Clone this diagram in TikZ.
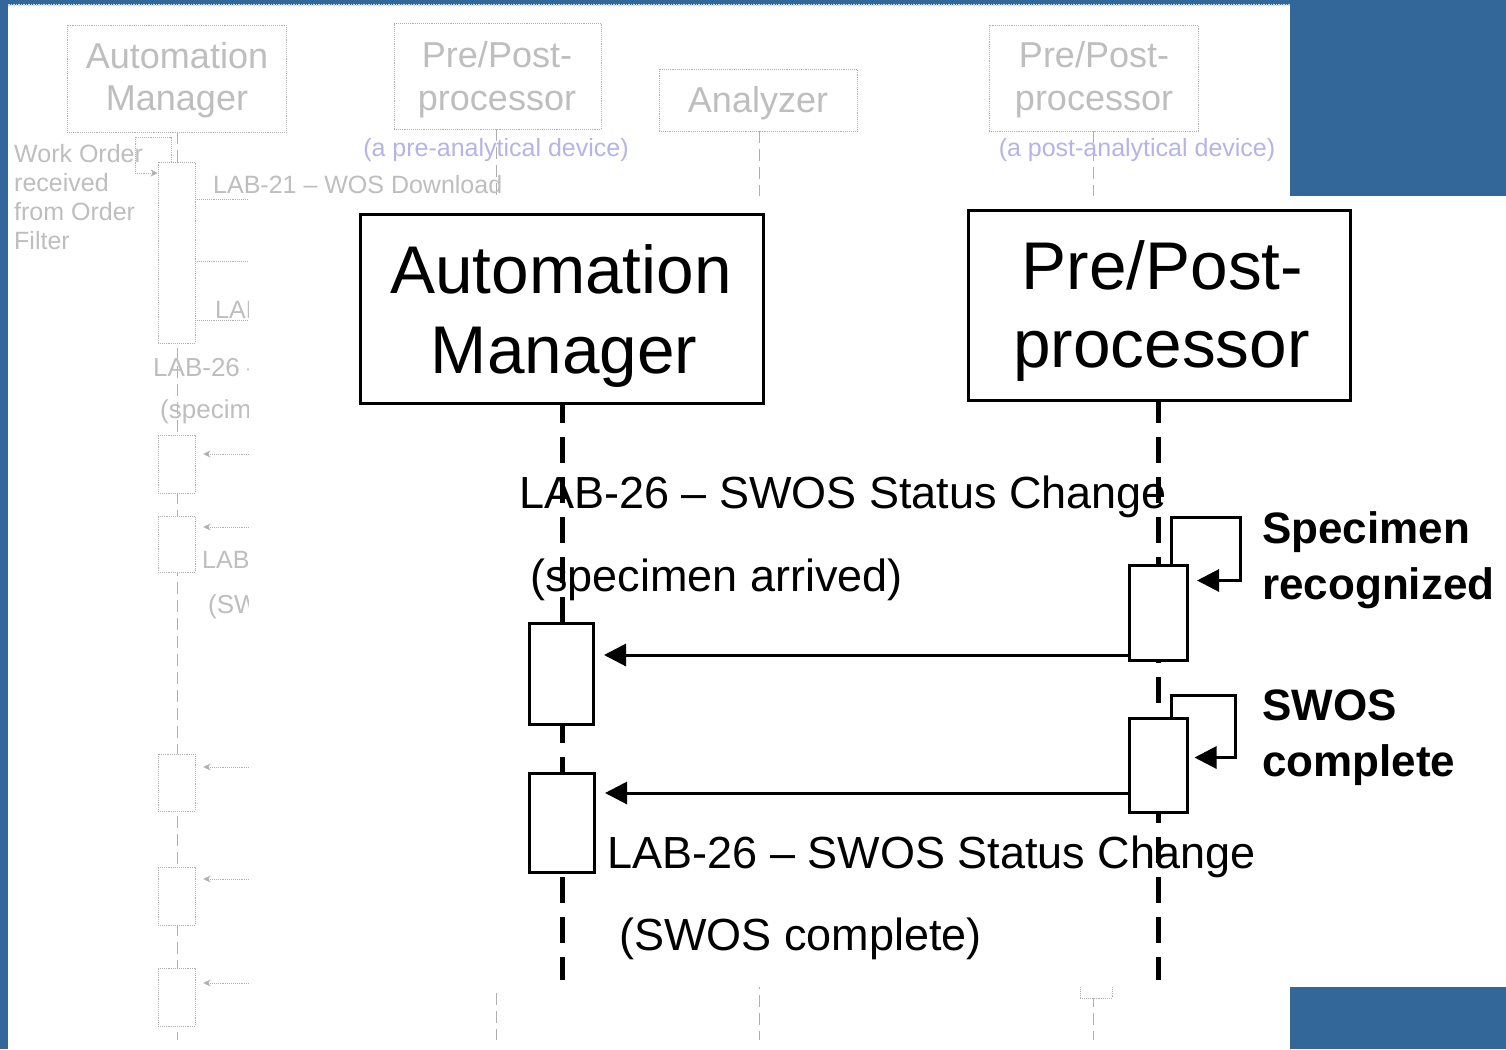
\documentclass[tikz,border=0pt]{standalone}
\usepackage{fontspec}
\setmainfont{Liberation Sans}
\usetikzlibrary{arrows.meta,calc}
\definecolor{bgblue}{RGB}{51,102,153}
\definecolor{fadeln}{RGB}{175,175,175}
\definecolor{fadetx}{RGB}{190,190,190}
\definecolor{fadebl}{RGB}{180,180,232}
\begin{document}
\begin{tikzpicture}[x=1pt,y=-1pt,
  fbox/.style={draw=fadeln, densely dotted, line width=0.9, fill=white, inner sep=0},
  ftext/.style={text=fadetx, inner sep=0, anchor=base, font=\fontsize{36}{42}\selectfont},
  fsmall/.style={text=fadetx, inner sep=0, anchor=base west, font=\fontsize{25}{29}\selectfont},
  fline/.style={draw=fadeln, line width=0.9, densely dotted},
  flife/.style={draw=fadeln, line width=0.9, dash pattern=on 12 off 6},
  farrow/.style={fline, -{Stealth[length=7,width=7]}},
  hdr/.style={draw, line width=3, fill=white, inner sep=0},
  act/.style={draw, line width=3, fill=white, inner sep=0},
  life/.style={line width=5, dash pattern=on 26 off 14},
  msg/.style={line width=3, -{Triangle[length=22,width=22]}},
  hdrtext/.style={inner sep=0, anchor=base, font=\fontsize{67.5}{80}\selectfont},
  lbl/.style={inner sep=0, anchor=base west, font=\fontsize{45}{54}\selectfont},
  blbl/.style={inner sep=0, anchor=base west, font=\fontsize{44}{56}\bfseries\selectfont}
]
\useasboundingbox (0,0) rectangle (1506,1049);
% background
\fill[bgblue] (0,0) rectangle (1506,1049);
\fill[white] (8,5) rectangle (1290,1049);
\draw[draw=white!75!bgblue, line width=1.5, densely dotted] (8,5) -- (1290,5);

% ---------------- faded diagram ----------------
\node[fbox, minimum width=219, minimum height=107] (fam) at (176.5,78.5) {};
\node[ftext] (famt1) at (177,68) {Automation};
\node[ftext] (famt2) at (177,110) {Manager};
\node[fbox, minimum width=207, minimum height=106] (fpre) at (497.5,76) {};
\node[ftext] (fpret1) at (497,67) {Pre/Post-};
\node[ftext] (fpret2) at (497,110) {processor};
\node[fbox, minimum width=198, minimum height=62] (fan) at (758,100) {};
\node[ftext] (fant) at (758,112) {Analyzer};
\node[fbox, minimum width=209, minimum height=106] (fpost) at (1093.5,78) {};
\node[ftext] (fpostt1) at (1094,67) {Pre/Post-};
\node[ftext] (fpostt2) at (1094,110) {processor};

\coordinate (famEnd) at (177,1040);
\coordinate (fpreEnd) at (496,1040);
\coordinate (fanEnd) at (759,1040);
\coordinate (fpostEnd) at (1093,1040);
\draw[flife] (fam.south -| famEnd) -- (famEnd);
\draw[flife] (fpre.south -| fpreEnd) -- (fpreEnd);
\draw[flife] (fan.south -| fanEnd) -- (fanEnd);
\draw[flife] (fpost.south -| fpostEnd) -- (fpostEnd);

\node[text=fadebl, inner sep=0, font=\fontsize{25}{29}\selectfont] (fpred) at (496,150) {(a pre-analytical device)};
\node[text=fadebl, inner sep=0, font=\fontsize{25}{29}\selectfont] (fpostd) at (1137,150) {(a post-analytical device)};

\node[fsmall] (wo1) at (14,162) {Work Order};
\node[fsmall] (wo2) at (14,191) {received};
\node[fsmall] (wo3) at (14,220) {from Order};
\node[fsmall] (wo4) at (14,249) {Filter};

\node[fbox, minimum width=37, minimum height=181] (fa1) at (176.5,252.5) {};
\node[fbox, minimum width=37, minimum height=58] (fa2) at (176.5,464) {};
\node[fbox, minimum width=37, minimum height=56] (fa3) at (176.5,544) {};
\node[fbox, minimum width=37, minimum height=57] (fa4) at (176.5,782.5) {};
\node[fbox, minimum width=37, minimum height=58] (fa5) at (176.5,896) {};
\node[fbox, minimum width=37, minimum height=58] (fa6) at (176.5,997) {};
\draw[fbox] (1080,930) rectangle (1112,998);

\coordinate (wol) at (135,137);
\draw[farrow] (171,162) -- (171,137) -- (wol) -- (135,173) -- (fa1.west |- 0,173);

\node[fsmall] (f21) at (213,193) {LAB-21 -- WOS Download};
\coordinate (fm0) at (420,199);
\coordinate (fmA) at (420,261);
\coordinate (fmB) at (420,320);
\draw[fline] (fa1.east |- fm0) -- (fm0);
\draw[fline] (fa1.east |- fmA) -- (fmA);
\draw[fline] (fa1.east |- fmB) -- (fmB);
\node[fsmall] (flab1) at (215,318) {LAB};
\node[fsmall, font=\fontsize{26}{30}\selectfont] (flab26) at (153,376) {LAB-26 -- SWOS};
\node[fsmall, font=\fontsize{26}{30}\selectfont] (fspec) at (160,418) {(specimen};
\node[fsmall] (flab2) at (202,568) {LAB};
\node[fsmall, font=\fontsize{26}{30}\selectfont] (fsw) at (208,613) {(SWOS};

\coordinate (fm2) at (420,454);
\coordinate (fm3) at (420,527);
\coordinate (fm4) at (420,767);
\coordinate (fm5) at (420,879);
\coordinate (fm6) at (420,983);
\draw[farrow] (fm2) -- ([xshift=8]fa2.east |- fm2);
\draw[farrow] (fm3) -- ([xshift=8]fa3.east |- fm3);
\draw[farrow] (fm4) -- ([xshift=8]fa4.east |- fm4);
\draw[farrow] (fm5) -- ([xshift=8]fa5.east |- fm5);
\draw[farrow] (fm6) -- ([xshift=8]fa6.east |- fm6);

% ---------------- white overlay ----------------
\fill[white] (249,196) rectangle (1506,987);

% ---------------- foreground ----------------
\node[hdr, minimum width=403, minimum height=189] (am) at (562,309) {};
\node[hdrtext] (amt1) at (561,293) {Automation};
\node[hdrtext] (amt2) at (564,373) {Manager};
\node[hdr, minimum width=382, minimum height=190] (pp) at (1159.5,305.5) {};
\node[hdrtext] (ppt1) at (1162.5,289) {Pre/Post-};
\node[hdrtext] (ppt2) at (1161.5,367) {processor};

\node[lbl] (t1) at (519,508) {LAB-26 -- SWOS Status Change};
\node[lbl] (t2) at (530,591) {(specimen arrived)};
\node[lbl] (t3) at (607.5,868) {LAB-26 -- SWOS Status Change};
\node[lbl] (t4) at (619,950) {(SWOS complete)};

\node[blbl] (s1) at (1262,543) {Specimen};
\node[blbl] (s2) at (1262,599) {recognized};
\node[blbl] (s3) at (1262,720) {SWOS};
\node[blbl] (s4) at (1262,776) {complete};

\coordinate (amEnd) at (562,980);
\coordinate (ppEnd) at (1158,980);
\draw[life, dash phase=8] (am.south) -- (amEnd);
\draw[life, dash phase=5] (pp.south -| ppEnd) -- (ppEnd);

\node[act, minimum width=64, minimum height=101] (am1) at (561.5,674) {};
\node[act, minimum width=65, minimum height=99] (am2) at (562,823) {};
\node[act, minimum width=58, minimum height=95] (pp1) at (1158.5,613) {};
\node[act, minimum width=58, minimum height=94] (pp2) at (1158.5,765.5) {};

\coordinate (m1e) at (604,655);
\coordinate (m2e) at (605,793);
\draw[msg] (pp1.west |- m1e) -- (m1e);
\draw[msg] (pp2.west |- m2e) -- (m2e);

\draw[msg] ([xshift=-17.5]pp1.north east) -- ++(0,-46.5) -- ++(68.5,0) -- ++(0,63) -- ++(-43,0);
\draw[msg] ([xshift=-17.5]pp2.north east) -- ++(0,-21.5) -- ++(64,0) -- ++(0,62) -- ++(-41,0);
\end{tikzpicture}
\end{document}
